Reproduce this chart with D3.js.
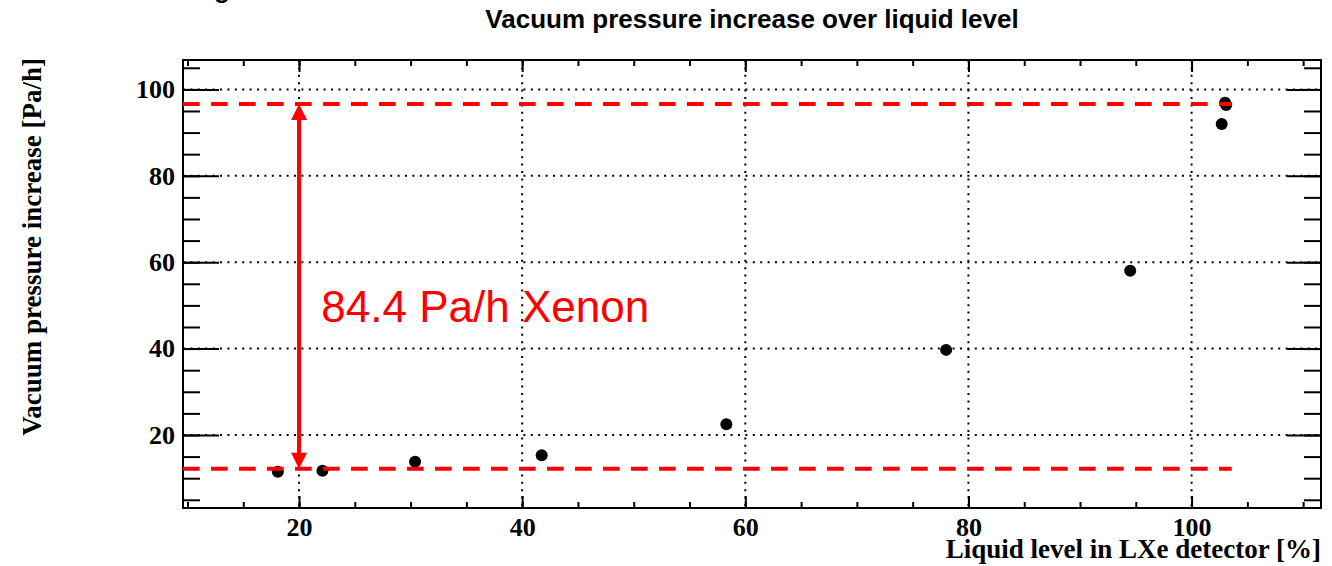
<!DOCTYPE html>
<html>
<head>
<meta charset="utf-8">
<script src="https://cdn.jsdelivr.net/npm/d3@7"></script>
<style>
  html, body { margin: 0; padding: 0; background: #fff; }
  svg { display: block; }
</style>
</head>
<body>
<svg id="chart" width="1332" height="566"></svg>
<script>
// Liquid level [%] and measured vacuum pressure increase [Pa/h]
const liquidLevel = [18.1, 22.1, 30.4, 41.75, 58.3, 78.0, 94.5, 102.7, 103.0, 103.1];
const pressureRise = [11.5, 11.7, 13.8, 15.3, 22.5, 39.7, 58.0, 92.0, 96.9, 96.4];

// Reference levels: empty-detector baseline and the increase with xenon filled
const baselineRise = 12.2;
const xenonIncrease = 84.4;
const referenceEnd = 103.6;   // x where the dashed reference lines stop
const arrowLevel = 20;        // x of the double arrow

const xMajorTicks = [20, 40, 60, 80, 100];
const yMajorTicks = [20, 40, 60, 80, 100];
const xMinorTicks = d3.range(10, 112, 5);
const yMinorTicks = d3.range(5, 107, 5);

const W = 1332, H = 566;
const frame = { left: 183, right: 1321, top: 60, bottom: 508 };

const x = d3.scaleLinear().domain([9.6, 111.6]).range([frame.left, frame.right]);
const y = d3.scaleLinear().domain([3.1, 106.8]).range([frame.bottom, frame.top]);

const svg = d3.select("#chart");
const serif = "'Liberation Serif', 'Times New Roman', serif";
const sans = "'Liberation Sans', Arial, Helvetica, sans-serif";

// Dotted grid at the major ticks
const grid = svg.append("g")
  .attr("stroke", "#000").attr("stroke-width", 2).attr("stroke-dasharray", "2,5.4");
grid.selectAll("line.gx").data(xMajorTicks).join("line")
  .attr("x1", d => x(d)).attr("x2", d => x(d))
  .attr("y1", frame.top).attr("y2", frame.bottom);
grid.selectAll("line.gy").data(yMajorTicks).join("line")
  .attr("x1", frame.left).attr("x2", frame.right)
  .attr("y1", d => y(d)).attr("y2", d => y(d));

// Axes with inward ticks on all four sides
function styleAxis(g) {
  g.select(".domain").remove();
  g.selectAll(".tick line").attr("stroke", "#000").attr("stroke-width", 2);
  g.selectAll("text")
    .attr("font-family", serif).attr("font-weight", "bold")
    .attr("font-size", 26).attr("fill", "#000");
}

svg.append("g").attr("transform", `translate(0,${frame.bottom})`)
  .call(d3.axisBottom(x).tickValues(xMinorTicks).tickSizeInner(-6).tickSizeOuter(0).tickFormat(""))
  .call(styleAxis);
svg.append("g").attr("transform", `translate(0,${frame.bottom})`)
  .call(d3.axisBottom(x).tickValues(xMajorTicks).tickSizeInner(-12).tickSizeOuter(0).tickPadding(10).tickFormat(d3.format("d")))
  .call(styleAxis);
svg.append("g").attr("transform", `translate(0,${frame.top})`)
  .call(d3.axisTop(x).tickValues(xMinorTicks).tickSizeInner(-6).tickSizeOuter(0).tickFormat(""))
  .call(styleAxis);
svg.append("g").attr("transform", `translate(0,${frame.top})`)
  .call(d3.axisTop(x).tickValues(xMajorTicks).tickSizeInner(-12).tickSizeOuter(0).tickFormat(""))
  .call(styleAxis);

svg.append("g").attr("transform", `translate(${frame.left},0)`)
  .call(d3.axisLeft(y).tickValues(yMinorTicks).tickSizeInner(-17).tickSizeOuter(0).tickFormat(""))
  .call(styleAxis);
svg.append("g").attr("transform", `translate(${frame.left},0)`)
  .call(d3.axisLeft(y).tickValues(yMajorTicks).tickSizeInner(-36).tickSizeOuter(0).tickPadding(8).tickFormat(d3.format("d")))
  .call(styleAxis);
svg.append("g").attr("transform", `translate(${frame.right},0)`)
  .call(d3.axisRight(y).tickValues(yMinorTicks).tickSizeInner(-17).tickSizeOuter(0).tickFormat(""))
  .call(styleAxis);
svg.append("g").attr("transform", `translate(${frame.right},0)`)
  .call(d3.axisRight(y).tickValues(yMajorTicks).tickSizeInner(-34).tickSizeOuter(0).tickFormat(""))
  .call(styleAxis);

// Frame
svg.append("rect")
  .attr("x", frame.left).attr("y", frame.top)
  .attr("width", frame.right - frame.left).attr("height", frame.bottom - frame.top)
  .attr("fill", "none").attr("stroke", "#000").attr("stroke-width", 2);

// Measurements
svg.append("g").selectAll("circle")
  .data(liquidLevel.map((lv, i) => [lv, pressureRise[i]]))
  .join("circle")
  .attr("cx", d => x(d[0])).attr("cy", d => y(d[1]))
  .attr("r", 6).attr("fill", "#000");

// Dashed reference levels
const levels = [baselineRise, baselineRise + xenonIncrease];
svg.append("g").selectAll("line").data(levels).join("line")
  .attr("x1", x(x.domain()[0])).attr("x2", x(referenceEnd))
  .attr("y1", d => y(d)).attr("y2", d => y(d))
  .attr("stroke", "#ff0000").attr("stroke-width", 4)
  .attr("stroke-dasharray", "16.7,11.3");

// Double arrow spanning the xenon increase
const ax = x(arrowLevel);
const yTop = y(levels[1]), yBot = y(levels[0]);
const headLen = 16, headHalf = 8;
svg.append("line")
  .attr("x1", ax).attr("x2", ax)
  .attr("y1", yTop + headLen - 1).attr("y2", yBot - headLen + 1)
  .attr("stroke", "#ff0000").attr("stroke-width", 4);
svg.append("path")
  .attr("d", `M${ax},${yTop} L${ax - headHalf},${yTop + headLen} L${ax + headHalf},${yTop + headLen} Z`)
  .attr("fill", "#ff0000");
svg.append("path")
  .attr("d", `M${ax},${yBot} L${ax - headHalf},${yBot - headLen} L${ax + headHalf},${yBot - headLen} Z`)
  .attr("fill", "#ff0000");

svg.append("text")
  .attr("x", x(22)).attr("y", y(46.2))
  .attr("font-family", sans).attr("font-size", 44).attr("fill", "#ff0000")
  .text(`${xenonIncrease} Pa/h Xenon`);

// Titles
svg.append("text")
  .attr("x", 752).attr("y", 28).attr("text-anchor", "middle")
  .attr("font-family", sans).attr("font-weight", "bold").attr("font-size", 26)
  .text("Vacuum pressure increase over liquid level");

svg.append("text")
  .attr("x", 222).attr("y", -2.5).attr("text-anchor", "middle")
  .attr("font-family", sans).attr("font-weight", "bold").attr("font-size", 26)
  .text("g");

svg.append("text")
  .attr("x", frame.right).attr("y", 558).attr("text-anchor", "end")
  .attr("font-family", serif).attr("font-weight", "bold").attr("font-size", 27)
  .text("Liquid level in LXe detector [%]");

svg.append("text")
  .attr("transform", `translate(41,58) rotate(-90)`).attr("text-anchor", "end")
  .attr("font-family", serif).attr("font-weight", "bold").attr("font-size", 27)
  .text("Vacuum pressure increase [Pa/h]");
</script>
</body>
</html>
